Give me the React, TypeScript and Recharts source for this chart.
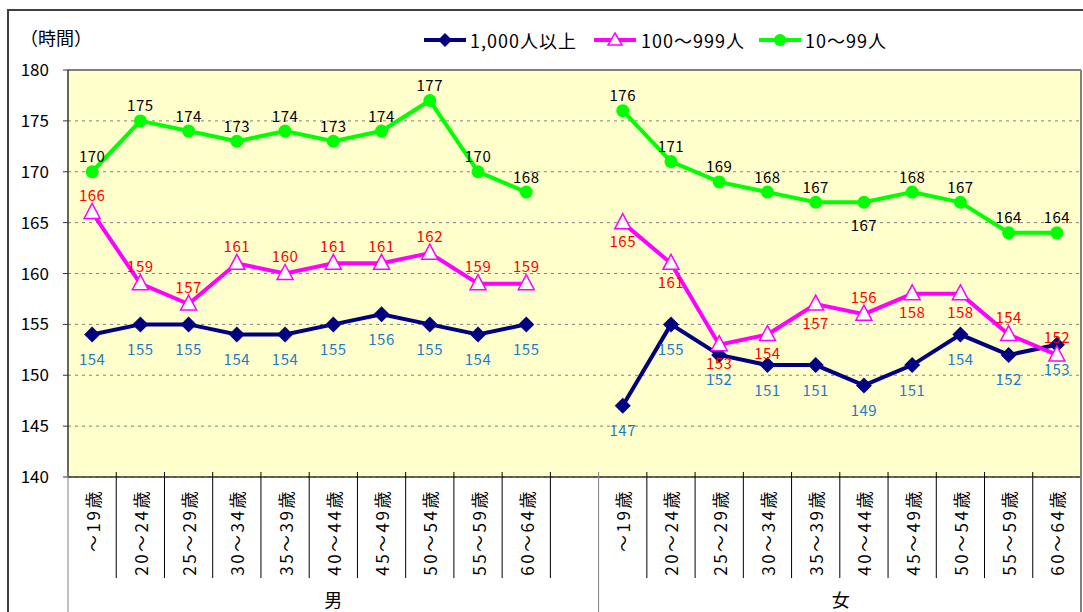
import { ComposedChart, Line, XAxis, YAxis, CartesianGrid, ReferenceLine } from 'recharts';

const ageGroups = ['～19歳', '20～24歳', '25～29歳', '30～34歳', '35～39歳', '40～44歳', '45～49歳', '50～54歳', '55～59歳', '60～64歳'];
const sexes = ['男', '女'];
const seriesNames = ['1,000人以上', '100～999人', '10～99人'];

const maleLarge = [154, 155, 155, 154, 154, 155, 156, 155, 154, 155];
const femaleLarge = [147, 155, 152, 151, 151, 149, 151, 154, 152, 153];
const maleMid = [166, 159, 157, 161, 160, 161, 161, 162, 159, 159];
const femaleMid = [165, 161, 153, 154, 157, 156, 158, 158, 154, 152];
const maleSmall = [170, 175, 174, 173, 174, 173, 174, 177, 170, 168];
const femaleSmall = [176, 171, 169, 168, 167, 167, 168, 167, 164, 164];

const yTicks = [140, 145, 150, 155, 160, 165, 170, 175, 180];

// where each data label sits: 't' above the point, 'b' below (male, gap, female)
const largeSide = 'bbbbbbbbbb-bbbbbbbbbb';
const midSide = 'tttttttttt-bbbbbtbbtt';
const smallSide = 'tttttttttt-tttttbtttt';

const NAVY = '#000080';
const MAGENTA = '#FF00FF';
const GREEN = '#00FF00';
const FONT = '"Noto Sans CJK JP", "Noto Sans", sans-serif';

// one row per slot: 10 male, an empty spacer, 10 female
const data = [
  ...ageGroups.map((age, i) => ({ id: `m${i}`, age, large: maleLarge[i], mid: maleMid[i], small: maleSmall[i] })),
  { id: 'gap', age: '', large: null, mid: null, small: null },
  ...ageGroups.map((age, i) => ({ id: `f${i}`, age, large: femaleLarge[i], mid: femaleMid[i], small: femaleSmall[i] })),
];

const W = 1083;
const H = 612;
const PLOT_LEFT = 68;
const PLOT_RIGHT = 1081;
const SLOT = (PLOT_RIGHT - PLOT_LEFT) / data.length;

const AgeTick = (props: any) => {
  const { x, y, index } = props;
  const row = data[index];
  const left = x - SLOT / 2;
  const groupStart = index === 0 || index === 11;
  return (
    <g>
      <line x1={left} y1={y - 5} x2={left} y2={groupStart ? H : y + 101} stroke={groupStart ? '#808080' : '#000'} strokeWidth={1} />
      {index === data.length - 1 && (
        <line x1={x + SLOT / 2} y1={y} x2={x + SLOT / 2} y2={H} stroke="#808080" strokeWidth={2} />
      )}
      {row.age && (
        <text
          x={x}
          y={y + 12}
          transform={`rotate(-90, ${x}, ${y + 12})`}
          textAnchor="end"
          dominantBaseline="central"
          fontSize={17}
          letterSpacing={2.5}
          fontFamily={FONT}
          fill="#000"
        >
          {row.age}
        </text>
      )}
      {index === 4 && (
        <text x={(PLOT_LEFT + PLOT_LEFT + SLOT * 11) / 2} y={H - 5} textAnchor="middle" fontSize={18} fontFamily={FONT} fill="#000">
          {sexes[0]}
        </text>
      )}
      {index === 15 && (
        <text x={(PLOT_LEFT + SLOT * 11 + W) / 2} y={H - 5} textAnchor="middle" fontSize={18} fontFamily={FONT} fill="#000">
          {sexes[1]}
        </text>
      )}
    </g>
  );
};

const Diamond = ({ cx, cy, index }: any) =>
  cy == null ? <g key={index} /> : (
    <path key={index} d={`M${cx},${cy - 8} L${cx + 8},${cy} L${cx},${cy + 8} L${cx - 8},${cy} Z`} fill={NAVY} />
  );

const Triangle = ({ cx, cy, index }: any) =>
  cy == null ? <g key={index} /> : (
    <path key={index} d={`M${cx},${cy - 9} L${cx + 8},${cy + 6} L${cx - 8},${cy + 6} Z`} fill="#fff" stroke={MAGENTA} strokeWidth={1.5} />
  );

const Circle = ({ cx, cy, index }: any) =>
  cy == null ? <g key={index} /> : <circle key={index} cx={cx} cy={cy} r={6.5} fill={GREEN} />;

const makeLabel = (sides: string, color: string, up: number, down: number) => (props: any) => {
  const { x, y, value, index } = props;
  if (value == null || y == null) return <g key={index} />;
  const dy = sides[index] === 't' ? -up : down;
  return (
    <text key={index} x={x} y={y + dy} textAnchor="middle" dominantBaseline="central" fontSize={15} letterSpacing={0.5} fontFamily={FONT} fill={color}>
      {value}
    </text>
  );
};

const legendItems = [
  { name: seriesNames[0], color: NAVY, left: 423, textLeft: 470, mark: 'diamond' },
  { name: seriesNames[1], color: MAGENTA, left: 593, textLeft: 641, mark: 'triangle' },
  { name: seriesNames[2], color: GREEN, left: 758, textLeft: 805, mark: 'circle' },
];

const LegendIcon = ({ color, mark }: { color: string; mark: string }) => (
  <svg width={44} height={16} style={{ display: 'block' }}>
    <line x1={1} y1={8} x2={43} y2={8} stroke={color} strokeWidth={4} />
    {mark === 'diamond' && <path d="M22,1 L29,8 L22,15 L15,8 Z" fill={color} />}
    {mark === 'triangle' && <path d="M22,1 L29,13 L15,13 Z" fill="#fff" stroke={color} strokeWidth={1.5} />}
    {mark === 'circle' && <circle cx={22} cy={8} r={6} fill={color} />}
  </svg>
);

const App = () => {
  return (
    <div style={{ position: 'fixed', left: 0, top: 0, width: W, height: H, background: '#fff', overflow: 'hidden', fontFamily: FONT }}>
      <div style={{ position: 'absolute', left: 7, top: 9, right: 0, bottom: 0, borderTop: '2px solid #404040', borderLeft: '2px solid #404040' }} />
      <div style={{ position: 'absolute', left: 20, top: 24, fontSize: 18, lineHeight: '26px', color: '#000' }}>（時間）</div>
      {legendItems.map((item) => (
        <div key={item.name}>
          <div style={{ position: 'absolute', left: item.left, top: 32 }}>
            <LegendIcon color={item.color} mark={item.mark} />
          </div>
          <div style={{ position: 'absolute', left: item.textLeft, top: 27, fontSize: 18, lineHeight: '26px', letterSpacing: 1, color: '#000', whiteSpace: 'nowrap' }}>{item.name}</div>
        </div>
      ))}
      <div style={{ position: 'absolute', left: 0, top: 0 }}>
        <ComposedChart width={W} height={H} data={data} margin={{ top: 70, right: W - PLOT_RIGHT - 2, bottom: 0, left: 0 }}>
          <CartesianGrid yAxisId="left" vertical={false} stroke="#808080" strokeDasharray="3 4" fill="#FFFFCC" />
          <ReferenceLine yAxisId="left" y={180} stroke="#808080" strokeWidth={2} />
          <XAxis
            dataKey="id"
            scale="band"
            height={H - 477}
            tickSize={0}
            tickMargin={0}
            interval={0}
            tick={<AgeTick />}
            axisLine={{ stroke: '#333', strokeWidth: 1.5 }}
            tickLine={false}
          />
          <YAxis
            yAxisId="left"
            domain={[140, 180]}
            ticks={yTicks}
            width={PLOT_LEFT}
            tickSize={5}
            tickMargin={14}
            interval={0}
            axisLine={{ stroke: '#333', strokeWidth: 1.5 }}
            tickLine={{ stroke: '#333' }}
            tick={{ fontSize: 17, fontFamily: FONT, fill: '#000' }}
          />
          <YAxis yAxisId="right" orientation="right" width={2} domain={[140, 180]} tick={false} tickLine={false} axisLine={{ stroke: '#808080', strokeWidth: 2 }} />
          <Line yAxisId="left" dataKey="large" name={seriesNames[0]} stroke={NAVY} strokeWidth={4} dot={Diamond} activeDot={false} label={makeLabel(largeSide, '#1F7BC6', 0, 24)} isAnimationActive={false} />
          <Line yAxisId="left" dataKey="mid" name={seriesNames[1]} stroke={MAGENTA} strokeWidth={4} dot={Triangle} activeDot={false} label={makeLabel(midSide, '#FF0000', 18, 18)} isAnimationActive={false} />
          <Line yAxisId="left" dataKey="small" name={seriesNames[2]} stroke={GREEN} strokeWidth={4} dot={Circle} activeDot={false} label={makeLabel(smallSide, '#000', 16, 22)} isAnimationActive={false} />
        </ComposedChart>
      </div>
    </div>
  );
};

export default App;
